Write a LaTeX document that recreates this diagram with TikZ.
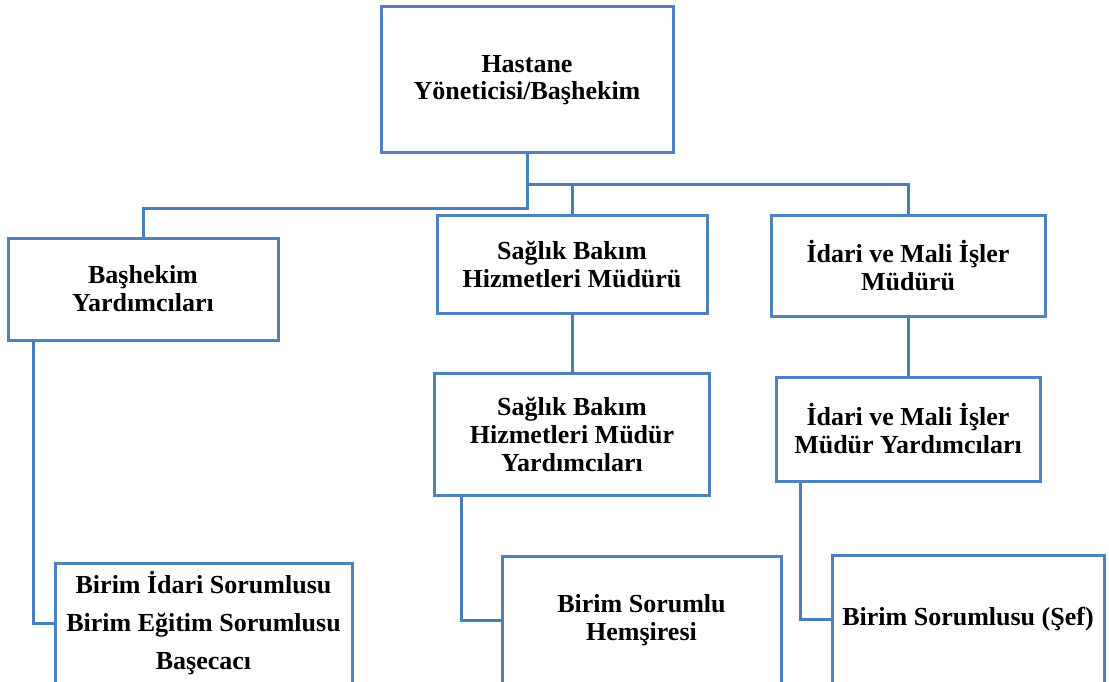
\documentclass[tikz,border=0pt]{standalone}
\usepackage{fontspec}
\setmainfont{Liberation Serif}
\definecolor{boxblue}{HTML}{4F81BD}
\definecolor{lineblue}{HTML}{4A7EBB}
\begin{document}
\begin{tikzpicture}[x=1pt,y=-1pt,
  unit/.style={draw=boxblue, line width=3pt, fill=white, inner sep=0pt, align=center,
    font=\bfseries\fontsize{26}{28}\selectfont},
  link/.style={draw=lineblue, line width=3pt}]
\useasboundingbox (0,0) rectangle (1109,682);
\clip (0,0) rectangle (1109,682);
\node [unit, minimum width=292pt, minimum height=146pt, font=\bfseries\fontsize{26}{27}\selectfont] (top) at (527,80) {Hastane\\Yöneticisi/Başhekim};
\node [unit, minimum width=270pt, minimum height=102pt] (bas) at (143,289) {Başhekim\\Yardımcıları};
\node [unit, minimum width=270pt, minimum height=98pt] (sagl) at (572,264) {Sağlık Bakım\\Hizmetleri Müdürü};
\node [unit, minimum width=274pt, minimum height=101pt] (idari) at (908,265.5) {İdari ve Mali İşler\\Müdürü};
\node [unit, minimum width=275pt, minimum height=122pt] (saglyrd) at (572,434) {Sağlık Bakım\\Hizmetleri Müdür\\Yardımcıları};
\node [unit, minimum width=264pt, minimum height=104pt] (idariyrd) at (908,429) {İdari ve Mali İşler\\Müdür Yardımcıları};
\node [unit, minimum width=297pt, minimum height=121pt, font=\bfseries\fontsize{26}{38}\selectfont] (birim) at (203.5,623.5) {Birim İdari Sorumlusu\\Birim Eğitim Sorumlusu\\Başecacı};
\node [unit, minimum width=279pt, minimum height=128pt] (hemsire) at (641.5,620) {Birim Sorumlu\\Hemşiresi};
\node [unit, minimum width=272pt, minimum height=129pt] (sef) at (968,619.5) {Birim Sorumlusu (Şef)};
\draw [link] (top.south) -- ++(0,30) coordinate (hub) -| (idari.north);
\draw [link] (sagl.north) -- (sagl.north |- hub);
\draw [link] (hub) -- ++(0,24) -| (bas.north);
\draw [link] (sagl.south) -- (sagl.south |- saglyrd.north);
\draw [link] (idari.south) -- (idari.south |- idariyrd.north);
\draw [link] ([xshift=27pt]bas.south west) |- (birim.west);
\draw [link] ([xshift=28pt]saglyrd.south west) |- (hemsire.west);
\draw [link] ([xshift=26pt]idariyrd.south west) |- (sef.west);
\end{tikzpicture}
\end{document}
